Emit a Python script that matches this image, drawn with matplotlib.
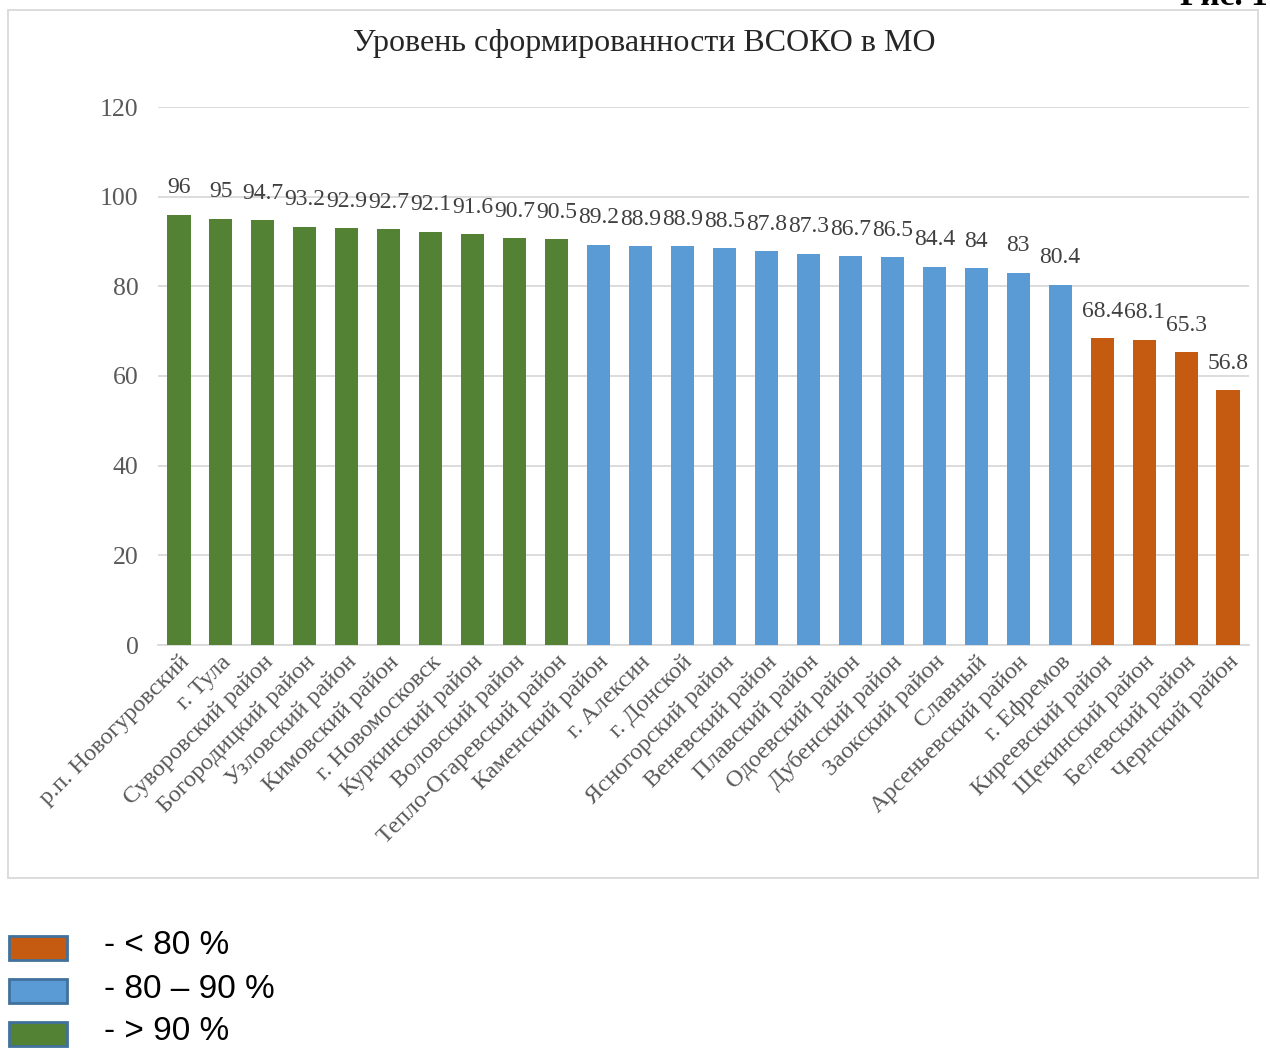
import matplotlib.pyplot as plt
import matplotlib.patches as mpatches
from matplotlib.transforms import ScaledTranslation

districts = ['р.п. Новогуровский', 'г. Тула', 'Суворовский район', 'Богородицкий район',
             'Узловский район', 'Кимовский район', 'г. Новомосковск', 'Куркинский район',
             'Воловский район', 'Тепло-Огаревский район', 'Каменский район', 'г. Алексин',
             'г. Донской', 'Ясногорский район', 'Веневский район', 'Плавский район',
             'Одоевский район', 'Дубенский район', 'Заокский район', 'Славный',
             'Арсеньевский район', 'г. Ефремов', 'Киреевский район', 'Щекинский район',
             'Белевский район', 'Чернский район']
values = [96, 95, 94.7, 93.2, 92.9, 92.7, 92.1, 91.6, 90.7, 90.5, 89.2, 88.9, 88.9,
          88.5, 87.8, 87.3, 86.7, 86.5, 84.4, 84, 83, 80.4, 68.4, 68.1, 65.3, 56.8]
legend_labels = ['- < 80 %', '- 80 – 90 %', '- > 90 %']

GREEN = '#548235'
BLUE = '#5B9BD5'
ORANGE = '#C55A11'
TXT = '#595959'


def color_for(v):
    if v > 90:
        return GREEN
    if v >= 80:
        return BLUE
    return ORANGE


plt.rcParams['font.family'] = ['Liberation Serif', 'DejaVu Serif']

fig = plt.figure(figsize=(12.7, 10.49), dpi=100)
ax = fig.add_axes([158 / 1270, 404 / 1049, (1249 - 158) / 1270, (645 - 107) / 1049])

x = range(len(values))
ax.bar(x, values, width=0.55, color=[color_for(v) for v in values], zorder=3)
for i, v in zip(x, values):
    ax.annotate(f'{v:g}', (i, v), xytext=(0, 12), textcoords='offset points',
                ha='center', va='bottom', fontsize=17, color='#404040')

ax.set_xlim(-0.5, len(values) - 0.5)
ax.set_ylim(0, 120)
ax.set_yticks(range(0, 121, 20))
ax.yaxis.grid(True, color='#D9D9D9', linewidth=1.3, zorder=0)
for s in ['top', 'right', 'left']:
    ax.spines[s].set_visible(False)
ax.spines['bottom'].set_color('#D9D9D9')
ax.spines['bottom'].set_linewidth(1.3)
ax.tick_params(axis='both', length=0, labelsize=18.5, labelcolor=TXT)
ax.tick_params(axis='y', pad=14)
ax.tick_params(axis='x', pad=10)
ax.set_xticks(list(x))
ax.set_xticklabels(districts, rotation=45, ha='right', va='center',
                   rotation_mode='anchor')
shift = ScaledTranslation(7 / 100, 0, fig.dpi_scale_trans)
for lbl in ax.get_xticklabels():
    lbl.set_fontsize(17.5)
    lbl.set_transform(lbl.get_transform() + shift)

fig.text(644 / 1270, 1 - 44 / 1049, 'Уровень сформированности ВСОКО в МО',
         ha='center', va='center', fontsize=23, color='#262626')

# chart frame
fig.patches.append(mpatches.Rectangle((8 / 1270, 1 - 878 / 1049), 1250 / 1270, 868 / 1049,
                                      transform=fig.transFigure, fill=False,
                                      edgecolor='#D9D9D9', linewidth=1.3))

# caption at top right, cut off by the page edge as in the source
fig.text(1268 / 1270, 1 - 5 / 1049, 'Рис. 1', ha='right', va='baseline',
         fontsize=24, fontweight='bold', color='black')

# legend below the chart
legend_colors = [ORANGE, BLUE, GREEN]
for k, (lab, c) in enumerate(zip(legend_labels, legend_colors)):
    yc = 1 - (948 + 43 * k) / 1049
    fig.patches.append(mpatches.Rectangle((9 / 1270, yc - 12 / 1049), 58 / 1270, 24 / 1049,
                                          transform=fig.transFigure, facecolor=c,
                                          edgecolor='#41719C', linewidth=2))
    fig.text(104 / 1270, yc + 2 / 1049, lab, ha='left', va='center', fontsize=24,
             family=['Liberation Sans', 'DejaVu Sans'], color='black')

fig.savefig('out.png', dpi=100)
